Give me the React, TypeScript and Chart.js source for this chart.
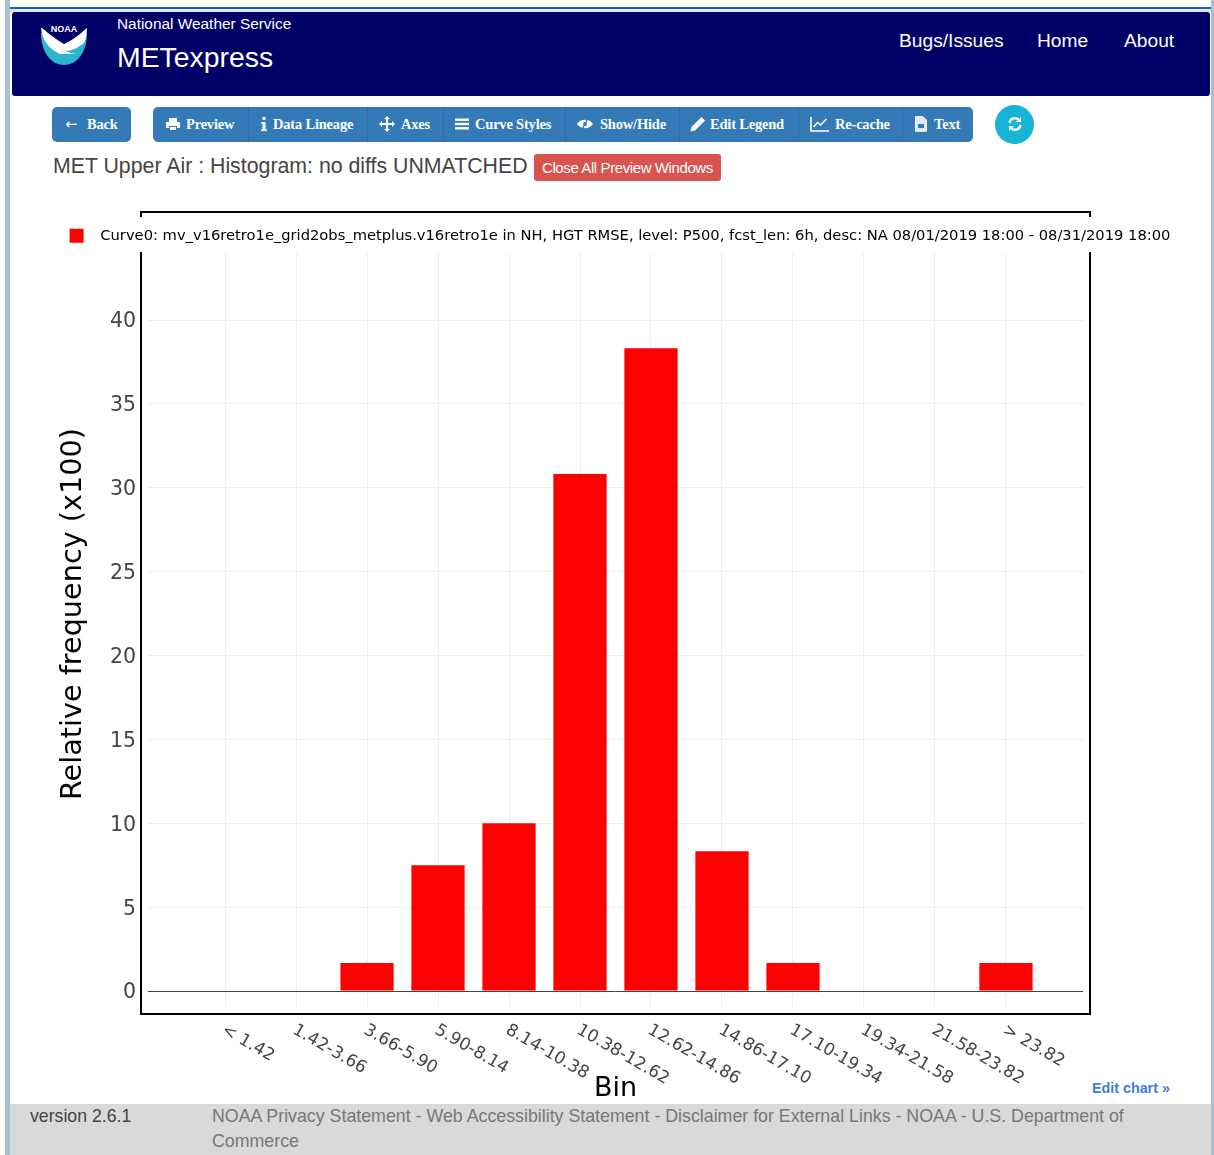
import React, { useEffect, useRef } from "react";
import { Chart, registerables } from "chart.js";

Chart.register(...registerables);

const categories = ["< 1.42", "1.42-3.66", "3.66-5.90", "5.90-8.14", "8.14-10.38", "10.38-12.62", "12.62-14.86", "14.86-17.10", "17.10-19.34", "19.34-21.58", "21.58-23.82", "> 23.82"];
const frequencies = [0, 0, 1.67, 7.5, 10, 30.83, 38.33, 8.33, 1.67, 0, 0, 1.67];
const yTickValues = [0, 5, 10, 15, 20, 25, 30, 35, 40];
const curveLabel = "Curve0: mv_v16retro1e_grid2obs_metplus.v16retro1e in NH, HGT RMSE, level: P500, fcst_len: 6h, desc: NA 08/01/2019 18:00 - 08/31/2019 18:00";
const toolbarItems = [
  { label: "Preview", icon: "print", iconX: 165, textX: 186, edge: 153 },
  { label: "Data Lineage", icon: "info", iconX: 256, textX: 273, edge: 248 },
  { label: "Axes", icon: "move", iconX: 379, textX: 401, edge: 367 },
  { label: "Curve Styles", icon: "bars", iconX: 454, textX: 475, edge: 443 },
  { label: "Show/Hide", icon: "eye", iconX: 577, textX: 600, edge: 565 },
  { label: "Edit Legend", icon: "pencil", iconX: 690, textX: 710, edge: 679 },
  { label: "Re-cache", icon: "chart", iconX: 810, textX: 835, edge: 798 },
  { label: "Text", icon: "doc", iconX: 913, textX: 934, edge: 902 },
];

const sans = '"Liberation Sans", Arial, sans-serif';
const serif = '"Liberation Serif", serif';
const chartFont = '"DejaVu Sans", sans-serif';

const alignTickLabels = {
  id: "alignTickLabels",
  afterLayout(chart: any) {
    // the axis title is centred over the whole plot height, legend band included
    chart.scales.y.top -= 32;
  },
  beforeDraw(chart: any) {
    chart.scales.x.getLabelItems().forEach((item: any) => {
      item.options.textAlign = "left";
      item.options.translation = [item.options.translation[0] - 2, item.options.translation[1]];
    });
    chart.scales.y.getLabelItems().forEach((item: any) => {
      item.options.translation = [item.options.translation[0] + 1, item.options.translation[1] + 2];
    });
  },
};

function Txt(props: { x: number; y: number; size: number; color: string; font?: string; bold?: boolean; spacing?: number; children: React.ReactNode }) {
  return (
    <div
      style={{
        position: "absolute",
        left: props.x,
        top: props.y,
        fontSize: props.size,
        lineHeight: "1",
        transform: "translateY(-50%)",
        color: props.color,
        fontFamily: props.font || sans,
        fontWeight: props.bold ? 700 : 400,
        letterSpacing: props.spacing || 0,
        whiteSpace: "nowrap",
      }}
    >
      {props.children}
    </div>
  );
}

function Box(props: { x: number; y: number; w: number; h: number; bg: string; radius?: number; style?: React.CSSProperties }) {
  return (
    <div
      style={{
        position: "absolute",
        left: props.x,
        top: props.y,
        width: props.w,
        height: props.h,
        background: props.bg,
        borderRadius: props.radius || 0,
        ...props.style,
      }}
    />
  );
}

function Icon(props: { name: string; x: number; y?: number; size?: number; color?: string }) {
  const c = props.color || "#ffffff";
  const shapes: Record<string, React.ReactNode> = {
    print: (
      <g fill={c}>
        <path d="M4 2h8v4H4z M1 6h14v6h-3v-2H4v2H1z M5 11h6v3H5z" />
      </g>
    ),
    info: (
      <g fill={c}>
        <rect x="6.5" y="1" width="3" height="3" />
        <path d="M5.5 6h4v7h1.2v2H5.3v-2h1.2V8H5.5z" />
      </g>
    ),
    move: (
      <g fill={c}>
        <path d="M8 0l3 3H9v4h4V5l3 3-3 3V9H9v4h2l-3 3-3-3h2V9H3v2L0 8l3-3v2h4V3H5z" />
      </g>
    ),
    bars: (
      <g fill={c}>
        <rect x="1" y="2.5" width="14" height="2.4" />
        <rect x="1" y="6.8" width="14" height="2.4" />
        <rect x="1" y="11.1" width="14" height="2.4" />
      </g>
    ),
    eye: (
      <g>
        <path d="M0 8c3-5 12-6 16 0-4 6-13 5-16 0z" fill={c} />
        <path d="M5 14L11 2" stroke="#337ab7" strokeWidth="1.4" />
        <circle cx="8" cy="8" r="2" fill="#337ab7" />
      </g>
    ),
    pencil: (
      <g fill={c}>
        <path d="M11.5 1l3.5 3.5L5 14.5 0.5 15.5 1.5 11z" />
      </g>
    ),
    chart: (
      <g fill="none" stroke={c} strokeWidth="1.6">
        <path d="M1 1v14h18" />
        <path d="M3.5 11l4-4.5 3 2.5 6-6" />
      </g>
    ),
    doc: (
      <g>
        <path d="M2.5 0.7h7.5l3.5 3.5v11H2.5z" fill="#dfe9f3" stroke={c} strokeWidth="1" />
        <rect x="5" y="8" width="6" height="4" fill="#337ab7" />
      </g>
    ),
  };
  const s = props.size || 16;
  return (
    <svg style={{ position: "absolute", left: props.x, top: (props.y ?? 124) - s / 2 }} width={props.name === "chart" ? s * 1.25 : s} height={s} viewBox={props.name === "chart" ? "0 0 20 16" : "0 0 16 16"}>
      {shapes[props.name]}
    </svg>
  );
}

export default function App() {
  const ref = useRef<HTMLCanvasElement>(null);

  useEffect(() => {
    const chart = new Chart(ref.current as HTMLCanvasElement, {
      type: "bar",
      data: {
        datasets: [
          {
            label: curveLabel,
            data: frequencies.map((y, x) => ({ x, y })),
            backgroundColor: "#ff0000",
            borderWidth: 0,
            categoryPercentage: 1,
            barPercentage: 0.75,
            yAxisID: "y",
          },
        ],
      },
      plugins: [alignTickLabels],
      options: {
        animation: false,
        responsive: false,
        layout: { autoPadding: false, padding: { left: 26, top: 218, bottom: 50, right: 0 } },
        plugins: {
          tooltip: { enabled: false },
          legend: {
            position: "top",
            labels: {
              boxWidth: 14,
              boxHeight: 14,
              padding: 10.5,
              color: "#444444",
              font: { family: chartFont, size: 14.7 },
              generateLabels: (c: any) => [
                {
                  text: "  " + c.data.datasets[0].label,
                  fillStyle: "#ff0000",
                  strokeStyle: "#ff0000",
                  lineWidth: 0,
                  datasetIndex: 0,
                },
              ],
            },
          },
        },
        scales: {
          x: {
            type: "linear",
            min: -1.085,
            max: 12.085,
            offset: false,
            afterFit: (s: any) => { s.height = 98; },
            afterBuildTicks: (s: any) => { s.ticks = categories.map((_, value) => ({ value })); },
            grid: { offset: false, color: "#eeeeee", drawTicks: false },
            border: { display: false },
            ticks: {
              autoSkip: false,
              minRotation: -30,
              maxRotation: -30,
              padding: 13,
              color: "#444444",
              font: { family: chartFont, size: 17 },
              callback: (v: any) => categories[v],
            },
            title: { display: true, text: "Bin", color: "#000000", padding: 0, font: { family: chartFont, size: 27 } },
          },
          y: {
            type: "linear",
            position: "left",
            min: -0.95,
            max: 43.99,
            afterFit: (s: any) => { s.width = 122; },
            afterBuildTicks: (s: any) => { s.ticks = yTickValues.map((value) => ({ value })); },
            grid: { color: (c: any) => (c.tick && c.tick.value === 0 ? "#444444" : "#eeeeee"), drawTicks: false },
            border: { display: false },
            ticks: { padding: 13, color: "#444444", font: { family: chartFont, size: 20.5 } },
            title: { display: true, text: "Relative frequency (x100)", color: "#000000", padding: { top: 30, bottom: 0 }, font: { family: chartFont, size: 28.7 } },
          },
          yRight: {
            type: "linear",
            position: "right",
            afterFit: (s: any) => { s.width = 131; },
            grid: { display: false },
            border: { display: false },
            ticks: { display: false },
          },
        },
      },
    } as any);
    return () => chart.destroy();
  }, []);

  return (
    <div style={{ position: "absolute", left: 0, top: 0, width: 1214, height: 1155, overflow: "hidden", background: "#ffffff" }}>
      {/* page edges */}
      <Box x={5} y={0} w={5} h={1155} bg="#a9bfd8" />
      <Box x={1211} y={0} w={3} h={1155} bg="#a9bfd8" />
      <Box x={10} y={7} w={1201} h={2} bg="#0b6a9c" />
      <Box x={10} y={9} w={1201} h={3} bg="#dfe3ea" />

      {/* header */}
      <Box x={12} y={12} w={1198} h={84} bg="#000066" radius={3} />
      <svg style={{ position: "absolute", left: 40, top: 17 }} width={48} height={49} viewBox="0 0 48 49">
        <path d="M1 16 C1 34 10 48 24 48 C38 48 47 34 47 16 Z" fill="#2fb4cf" />
        <path d="M1 10 C5 12 9 18 24 27 C38 20 43 14 47 10 C47 16 46 22 44 26 C38 30 34 34 25 34 C30 36 34 37 37 37 L20 37 C12 33 2 26 1 10 Z" fill="#ffffff" />
        <path d="M0 0H48V10 C43 14 38 20 24 27 C9 18 5 12 0 10Z" fill="#000066" />
        <text x="24" y="15" textAnchor="middle" fontSize="9" fontWeight="700" fill="#ffffff" fontFamily={sans}>NOAA</text>
      </svg>
      <Txt x={117} y={24} size={15.4} color="#ffffff">National Weather Service</Txt>
      <Txt x={117} y={57} size={28.4} color="#ffffff">METexpress</Txt>
      <Txt x={899} y={41} size={19.2} color="#ffffff">Bugs/Issues</Txt>
      <Txt x={1037} y={41} size={19.2} color="#ffffff">Home</Txt>
      <Txt x={1124} y={41} size={19.2} color="#ffffff">About</Txt>

      {/* toolbar */}
      <Box x={52} y={107} w={79} h={35} bg="#337ab7" radius={5} />
      <Txt x={65} y={124} size={14.5} color="#ffffff" font={chartFont}>←</Txt>
      <Txt x={87} y={124} size={14.5} color="#ffffff" font={serif} bold spacing={-0.2}>Back</Txt>
      <Box x={153} y={107} w={820} h={35} bg="#337ab7" radius={5} />
      {toolbarItems.map((it, i) => (
        <React.Fragment key={it.label}>
          {i > 0 && <Box x={it.edge} y={107} w={1} h={35} bg="#2e6da4" />}
          <Icon name={it.icon} x={it.iconX} />
          <Txt x={it.textX} y={124} size={14.5} color="#ffffff" font={serif} bold spacing={-0.2}>{it.label}</Txt>
        </React.Fragment>
      ))}
      <Box x={995} y={105} w={39} h={39} bg="#17b4d6" radius={20} />
      <svg style={{ position: "absolute", left: 1007, top: 116 }} width={16} height={16} viewBox="0 0 16 16">
        <path d="M2.5 7a5.5 5.5 0 0 1 9.5-3M13.5 9a5.5 5.5 0 0 1-9.5 3" fill="none" stroke="#ffffff" strokeWidth="2.4" />
        <path d="M14 1v5H9zM2 15v-5h5z" fill="#ffffff" />
      </svg>

      {/* title row */}
      <Txt x={53} y={167} size={21.3} color="#444444">MET Upper Air : Histogram: no diffs UNMATCHED</Txt>
      <Box x={534} y={154} w={187} h={27} bg="#d9534f" radius={3} />
      <Txt x={542} y={167} size={15} color="#ffffff" spacing={-0.4}>Close All Preview Windows</Txt>

      {/* plot frame and the legend's white band */}
      <div style={{ position: "absolute", left: 140, top: 211, width: 947, height: 800, border: "2px solid #000000", boxSizing: "content-box" }} />
      <Box x={60} y={217} w={1120} h={35} bg="#ffffff" />

      {/* footer */}
      <Box x={10} y={1104} w={1201} h={51} bg="#d9d9d9" />
      <Txt x={30} y={1117} size={17.7} color="#444444">version 2.6.1</Txt>
      <Txt x={212} y={1117} size={17.8} color="#777777">NOAA Privacy Statement - Web Accessibility Statement - Disclaimer for External Links - NOAA - U.S. Department of</Txt>
      <Txt x={212} y={1142} size={17.8} color="#777777">Commerce</Txt>
      <Txt x={1092} y={1088} size={14.3} color="#447adb" bold>Edit chart »</Txt>

      <canvas ref={ref} width={1214} height={1155} style={{ position: "absolute", left: 0, top: 0, display: "block", pointerEvents: "none" }} />
    </div>
  );
}
